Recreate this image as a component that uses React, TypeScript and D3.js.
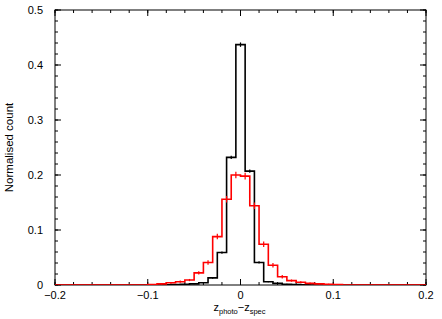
import React from "react";
import * as d3 from "d3";

// Black histogram: bins centred on these values (width 0.01)
const blackCenters = [-0.08, -0.07, -0.06, -0.05, -0.04, -0.03, -0.02, -0.01, 0, 0.01, 0.02, 0.03, 0.04, 0.05, 0.06, 0.07];
const blackValues = [0.0005, 0.001, 0.0015, 0.002, 0.004, 0.013, 0.059, 0.232, 0.437, 0.207, 0.041, 0.006, 0.003, 0.0015, 0.001, 0.0005];
const blackErrors = [0.0004, 0.0005, 0.0006, 0.0007, 0.001, 0.0015, 0.002, 0.003, 0.004, 0.003, 0.002, 0.001, 0.0008, 0.0006, 0.0005, 0.0004];

// Red histogram: bins with these lower edges (width 0.01)
const redLowEdges = [-0.1, -0.09, -0.08, -0.07, -0.06, -0.05, -0.04, -0.03, -0.02, -0.01, 0, 0.01, 0.02, 0.03, 0.04, 0.05, 0.06, 0.07, 0.08, 0.09, 0.1];
const redValues = [0.001, 0.002, 0.004, 0.006, 0.009, 0.022, 0.041, 0.088, 0.156, 0.2, 0.198, 0.144, 0.074, 0.036, 0.015, 0.008, 0.005, 0.003, 0.002, 0.0015, 0.001];
const redErrors = [0.0008, 0.001, 0.0015, 0.002, 0.002, 0.003, 0.004, 0.005, 0.006, 0.006, 0.006, 0.006, 0.005, 0.004, 0.003, 0.002, 0.002, 0.0015, 0.001, 0.001, 0.0008];

const xMajorTicks = [-0.2, -0.1, 0, 0.1, 0.2];
const xTickLabels = ["\u22120.2", "\u22120.1", "0", "0.1", "0.2"];
const yMajorTicks = [0, 0.1, 0.2, 0.3, 0.4, 0.5];
const yTickLabels = ["0", "0.1", "0.2", "0.3", "0.4", "0.5"];

const W = 442, H = 319;
const L = 55, R = 426, T = 10, B = 285;
const BIN = 0.01;
const FONT = "'Liberation Sans', Arial, Helvetica, sans-serif";

export default function App() {
  const x = d3.scaleLinear().domain([-0.2, 0.2]).range([L, R]);
  const y = d3.scaleLinear().domain([0, 0.5]).range([B, T]);

  // outline of contiguous bins
  const stepPath = (los: number[], vals: number[]) => {
    const pts: [number, number][] = [[-0.2, 0], [los[0], 0]];
    los.forEach((lo, i) => {
      pts.push([lo, vals[i]]);
      pts.push([lo + BIN, vals[i]]);
    });
    pts.push([los[los.length - 1] + BIN, 0]);
    pts.push([0.2, 0]);
    return d3.line<[number, number]>().x(d => x(d[0])).y(d => y(d[1]))(pts) as string;
  };

  const blackLos = blackCenters.map(c => c - BIN / 2);
  const blackPath = stepPath(blackLos, blackValues);
  const redPath = stepPath(redLowEdges, redValues);

  const xMinor = d3.range(-0.2, 0.2001, 0.02);
  const yMinor = d3.range(0, 0.5001, 0.02);

  return (
    <svg width={W} height={H} style={{ position: "absolute", left: 0, top: 0, background: "#fff" }}>
      <defs>
        <clipPath id="plot"><rect x={L} y={T - 1} width={R - L} height={B - T + 1} /></clipPath>
      </defs>
      {/* frame */}
      <rect x={L} y={T} width={R - L} height={B - T} fill="none" stroke="#000" strokeWidth={1} />
      {/* x ticks */}
      {xMinor.map((v, i) => (
        <g key={"xm" + i}>
          <line x1={x(v)} x2={x(v)} y1={B} y2={B - 3} stroke="#000" />
          <line x1={x(v)} x2={x(v)} y1={T} y2={T + 3} stroke="#000" />
        </g>
      ))}
      {xMajorTicks.map((v, i) => (
        <g key={"xM" + i}>
          <line x1={x(v)} x2={x(v)} y1={B} y2={B - 6} stroke="#000" />
          <line x1={x(v)} x2={x(v)} y1={T} y2={T + 6} stroke="#000" />
          <text x={x(v)} y={299} textAnchor="middle" fontFamily={FONT} fontSize={11} fill="#000">{xTickLabels[i]}</text>
        </g>
      ))}
      {/* y ticks */}
      {yMinor.map((v, i) => (
        <g key={"ym" + i}>
          <line x1={L} x2={L + 3} y1={y(v)} y2={y(v)} stroke="#000" />
          <line x1={R} x2={R - 3} y1={y(v)} y2={y(v)} stroke="#000" />
        </g>
      ))}
      {yMajorTicks.map((v, i) => (
        <g key={"yM" + i}>
          <line x1={L} x2={L + 6} y1={y(v)} y2={y(v)} stroke="#000" />
          <line x1={R} x2={R - 6} y1={y(v)} y2={y(v)} stroke="#000" />
          <text x={43} y={y(v) + 4} textAnchor="end" fontFamily={FONT} fontSize={11} fill="#000">{yTickLabels[i]}</text>
        </g>
      ))}
      {/* histograms */}
      <g clipPath="url(#plot)">
        <path d={blackPath} fill="none" stroke="#000" strokeWidth={1.6} />
        {blackCenters.map((c, i) => (
          <line key={"be" + i} x1={x(c)} x2={x(c)} y1={y(blackValues[i] - blackErrors[i])} y2={y(blackValues[i] + blackErrors[i])} stroke="#000" strokeWidth={1.2} />
        ))}
        <path d={redPath} fill="none" stroke="#ff0000" strokeWidth={1.6} />
        {redLowEdges.map((lo, i) => (
          <line key={"re" + i} x1={x(lo + BIN / 2)} x2={x(lo + BIN / 2)} y1={y(redValues[i] - redErrors[i])} y2={y(redValues[i] + redErrors[i])} stroke="#ff0000" strokeWidth={1.2} />
        ))}
      </g>
      {/* axis labels */}
      <text transform={`translate(13,${(T + B) / 2}) rotate(-90)`} textAnchor="middle" fontFamily={FONT} fontSize={11.5} fill="#000">Normalised count</text>
      <text x={(L + R) / 2 - 1} y={311} textAnchor="middle" fontFamily={FONT} fontSize={11} fill="#000">
        z<tspan fontSize={7.5} dy={3}>photo</tspan><tspan dy={-3}>{"\u2212"}z</tspan><tspan fontSize={7.5} dy={3}>spec</tspan>
      </text>
    </svg>
  );
}
